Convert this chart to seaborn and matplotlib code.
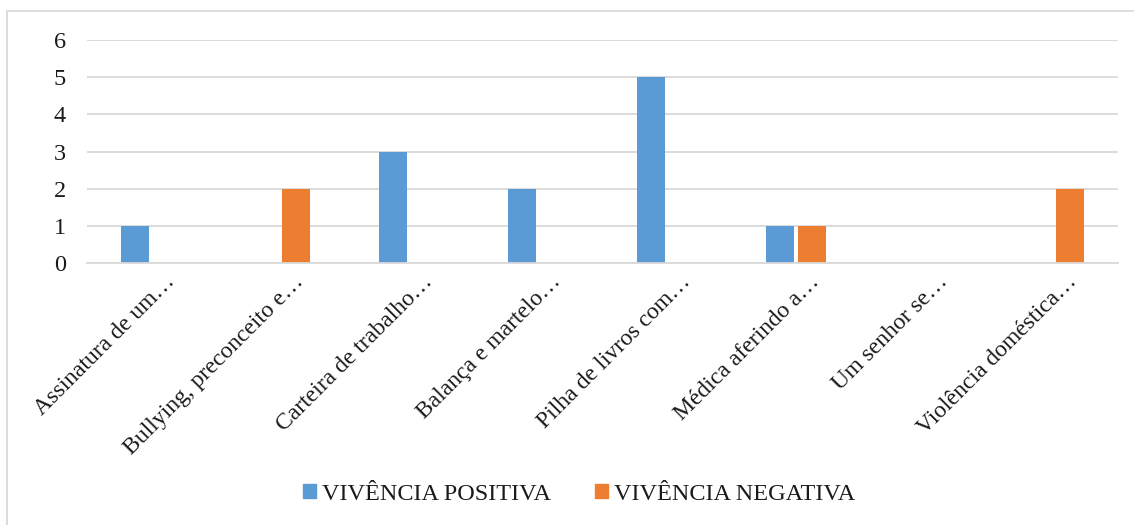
import matplotlib
matplotlib.use("Agg")
import matplotlib.pyplot as plt
import matplotlib.patches as mpatches
import matplotlib.transforms as mtransforms
import pandas as pd
import seaborn as sns

categories = [
    "Assinatura de um…",
    "Bullying, preconceito e…",
    "Carteira de trabalho…",
    "Balança e martelo…",
    "Pilha de livros com…",
    "Médica aferindo a…",
    "Um senhor se…",
    "Violência doméstica…",
]
positiva = [1, 0, 3, 2, 5, 1, 0, 0]
negativa = [0, 2, 0, 0, 0, 1, 0, 2]
series_names = ["VIVÊNCIA POSITIVA", "VIVÊNCIA NEGATIVA"]
colors = ["#5B9BD5", "#ED7D31"]

df = pd.DataFrame({
    "categoria": categories * 2,
    "valor": positiva + negativa,
    "serie": [series_names[0]] * len(categories) + [series_names[1]] * len(categories),
})

sns.set_theme(style="white")
plt.rcParams["font.family"] = ["Liberation Serif", "DejaVu Serif"]

FS = 17.5
fig = plt.figure(figsize=(11.34, 5.25), dpi=100)
W, H = 1134, 525
ax = fig.add_axes([87 / W, 1 - 263 / H, (1118 - 87) / W, (263 - 40) / H])

sns.barplot(data=df, x="categoria", y="valor", hue="serie", order=categories,
            hue_order=series_names, palette=colors, width=0.5, gap=0.13,
            ax=ax, legend=False, saturation=1, linewidth=0)

ax.set_ylim(0, 6)
ax.set_xlim(-0.5, len(categories) - 0.5)
ax.set_yticks(range(0, 7))
ax.yaxis.grid(True, color="#D9D9D9", linewidth=1.3)
ax.set_axisbelow(True)
for s in ["top", "right", "left"]:
    ax.spines[s].set_visible(False)
ax.spines["bottom"].set_color("#D9D9D9")
ax.spines["bottom"].set_linewidth(1.3)
ax.set_xlabel("")
ax.set_ylabel("")
ax.tick_params(axis="y", length=0, pad=19.5, labelsize=FS, labelcolor="#1a1a1a")
ax.tick_params(axis="x", length=0, pad=4, labelsize=17, labelcolor="#1a1a1a")
for lab in ax.get_yticklabels():
    lab.set_horizontalalignment("center")

offset = mtransforms.ScaledTranslation(20 / 100, -10 / 100, fig.dpi_scale_trans)
for lab in ax.get_xticklabels():
    lab.set_rotation(45)
    lab.set_rotation_mode("anchor")
    lab.set_horizontalalignment("right")
    lab.set_verticalalignment("center")
    lab.set_transform(lab.get_transform() + offset)

# chart frame
fig.patches.append(mpatches.Rectangle((7 / W, -0.1), 1.2, 1 - 11 / H + 0.1,
                                      transform=fig.transFigure, fill=False,
                                      edgecolor="#D9D9D9", linewidth=1.3))

handles = [mpatches.Patch(color=c, label=n) for c, n in zip(colors, series_names)]
fig.legend(handles=handles, loc="center", bbox_to_anchor=(579 / W, 1 - 494 / H),
           ncol=2, frameon=False, fontsize=FS, handlelength=0.55, handleheight=0.55,
           handletextpad=0.25, columnspacing=1.8, labelcolor="#1a1a1a")

fig.savefig("out.png", dpi=100, facecolor="white")
